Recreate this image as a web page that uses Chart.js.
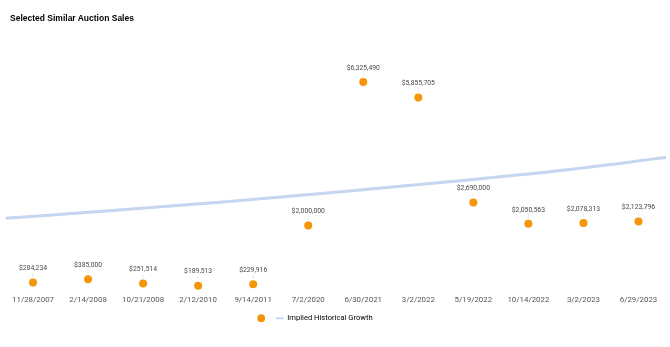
<!DOCTYPE html>
<html>
<head>
<meta charset="utf-8">
<script src="https://cdn.jsdelivr.net/npm/chart.js@4"></script>
<style>
    body { margin: 0; background: #fff; }
    #wrap { position: relative; width: 670px; height: 347px; }
    #title {
        position: absolute; left: 10px; top: 13px;
        font: bold 8.5px 'Liberation Sans', Arial, sans-serif;
        line-height: 10px; color: #000;
    }
</style>
</head>
<body>
<div id="wrap">
    <div id="title">Selected Similar Auction Sales</div>
    <canvas id="chart" width="670" height="347"></canvas>
</div>
<script>
// Sale dates and prices
const saleDates = ['11/28/2007', '2/14/2008', '10/21/2008', '2/12/2010', '9/14/2011', '7/2/2020',
    '6/30/2021', '3/2/2022', '5/19/2022', '10/14/2022', '3/2/2023', '6/29/2023'];
const salePrices = [284234, 385000, 251514, 189513, 229916, 2000000,
    6325490, 5855705, 2690000, 2050563, 2078313, 2123796];

// Implied growth curve (x in category slots)
const growthX = [0, 2, 4, 6, 8, 10, 12];
const growthY = [2217000, 2457000, 2713000, 2999000, 3309000, 3643000, 4046000];

const orange = '#f5960a';
const blue = '#c6d6f0';

// Price labels above each sale point
const priceLabels = {
    id: 'priceLabels',
    afterDatasetsDraw(chart) {
        const ctx = chart.ctx;
        const meta = chart.getDatasetMeta(0);
        ctx.save();
        ctx.font = '6.8px Roboto';
        ctx.textAlign = 'center';
        ctx.textBaseline = 'middle';
        meta.data.forEach((pt, i) => {
            ctx.strokeStyle = '#ececec';
            ctx.lineWidth = 1;
            ctx.beginPath();
            ctx.moveTo(pt.x, pt.y - 10);
            ctx.lineTo(pt.x, pt.y - 5);
            ctx.stroke();
            ctx.fillStyle = '#4a4a4a';
            ctx.fillText('$' + salePrices[i].toLocaleString('en-US'), pt.x, pt.y - 14);
        });
        ctx.restore();
    }
};

// Legend sits a bit left of centre in the original
const legendShift = {
    id: 'legendShift',
    afterLayout(chart) {
        chart.legend.left -= 21;
        chart.legend.right -= 21;
    }
};

new Chart(document.getElementById('chart'), {
    type: 'line',
    data: {
        labels: saleDates,
        datasets: [{
            label: '',
            data: salePrices,
            showLine: false,
            pointRadius: 4,
            pointHoverRadius: 4,
            pointBackgroundColor: orange,
            pointBorderWidth: 0,
            borderColor: orange,
            clip: false
        }, {
            label: 'Implied Historical Growth',
            data: growthX.map((x, i) => ({ x: x, y: growthY[i] })),
            xAxisID: 'x2',
            borderColor: blue,
            borderWidth: 3,
            pointRadius: 0,
            cubicInterpolationMode: 'monotone',
            fill: false
        }]
    },
    options: {
        responsive: false,
        animation: false,
        layout: { padding: { left: 5.5, right: 3.4, top: 30, bottom: 15 } },
        scales: {
            x: {
                type: 'category',
                offset: true,
                grid: { display: false, drawTicks: false },
                border: { display: false },
                ticks: {
                    autoSkip: false,
                    maxRotation: 0,
                    padding: 3,
                    color: '#555',
                    font: { family: 'Roboto', size: 7.9 }
                }
            },
            x2: {
                type: 'linear',
                display: false,
                min: 0,
                max: 12
            },
            y: {
                display: false,
                min: 0,
                max: 7890000
            }
        },
        plugins: {
            tooltip: { enabled: false },
            legend: {
                position: 'bottom',
                labels: {
                    usePointStyle: true,
                    boxHeight: 5.5,
                    padding: 7,
                    color: '#555',
                    font: { family: 'Roboto', size: 7.6 },
                    generateLabels: function() {
                        return [{
                            text: '',
                            fillStyle: orange,
                            strokeStyle: orange,
                            lineWidth: 0,
                            pointStyle: 'circle',
                            datasetIndex: 0
                        }, {
                            text: 'Implied Historical Growth',
                            fillStyle: blue,
                            strokeStyle: blue,
                            lineWidth: 2,
                            pointStyle: 'line',
                            datasetIndex: 1
                        }];
                    }
                }
            }
        }
    },
    plugins: [priceLabels, legendShift]
});
</script>
</body>
</html>
